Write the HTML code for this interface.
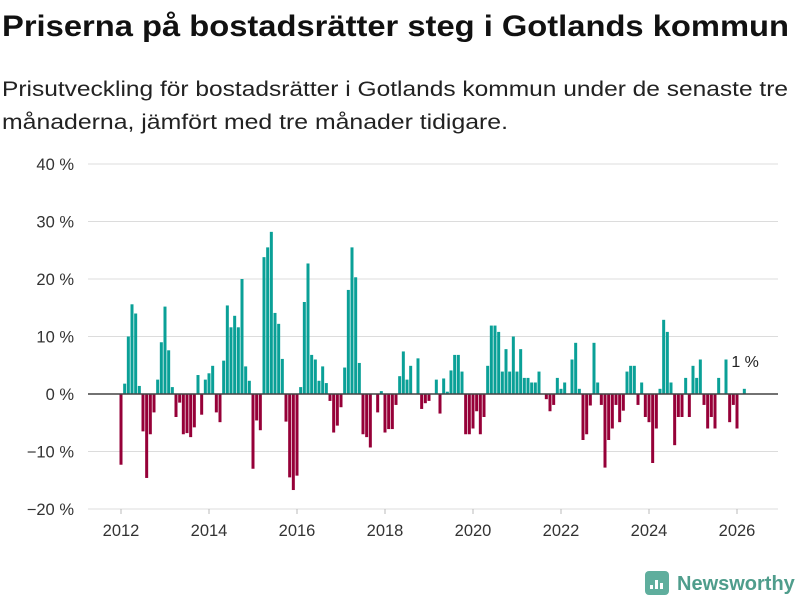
<!DOCTYPE html>
<html><head><meta charset="utf-8"><style>
body{margin:0;width:800px;height:600px;background:#fff;font-family:"Liberation Sans","DejaVu Sans",sans-serif;overflow:hidden;position:relative}
svg{position:absolute;left:0;top:0}
</style></head><body>
<svg id="chart" width="800" height="600">
<text x="2" y="36" font-size="30" font-weight="bold" fill="#111" textLength="787" lengthAdjust="spacingAndGlyphs">Priserna på bostadsrätter steg i Gotlands kommun</text>
<text x="2" y="96" font-size="21" fill="#222" textLength="786" lengthAdjust="spacingAndGlyphs">Prisutveckling för bostadsrätter i Gotlands kommun under de senaste tre</text>
<text x="2" y="129" font-size="21" fill="#222" textLength="506" lengthAdjust="spacingAndGlyphs">månaderna, jämfört med tre månader tidigare.</text>
</svg>
<script>
const startYear = 2012;
const values = [
-12.3,1.8,10,15.6,14,1.4,-6.5,-14.6,-7,-3.2,2.5,9,
15.2,7.6,1.2,-4,-1.5,-7,-6.8,-7.5,-5.8,3.3,-3.6,2.5,
3.6,4.9,-3.2,-4.9,5.8,15.4,11.6,13.6,11.6,20,4.8,2.3,
-13,-4.6,-6.3,23.8,25.5,28.2,14.1,12.2,6.1,-4.8,-14.5,-16.7,
-14.2,1.2,16,22.7,6.8,6,2.3,4.8,1.9,-1.2,-6.7,-5.5,
-2.3,4.6,18.1,25.5,20.3,5.4,-7,-7.5,-9.3,0,-3.2,0.5,
-6.7,-6.1,-6.1,-1.9,3.1,7.4,2.5,4.9,0,6.2,-2.6,-1.6,
-1.2,0,2.5,-3.4,2.7,0.4,4.1,6.8,6.8,3.9,-7,-7,
-6,-3,-7,-4,4.9,11.9,11.9,10.8,3.9,7.8,3.9,10,
3.9,7.8,2.8,2.8,2,2,3.9,0,-0.9,-3,-1.9,2.8,
0.9,2,0,6,8.9,0.9,-8,-7,-2,8.9,2,-1.9,
-12.8,-8,-6,-1.9,-4.9,-2.9,3.9,4.9,4.9,-1.9,2,-4,
-4.9,-12,-6,0.9,12.9,10.8,2,-8.9,-4,-4,2.8,-4,
4.9,2.8,6,-1.9,-6,-4,-6,2.8,0,6,-4.9,-1.9,
-6,0,0.9];
const yTicks = [-20,-10,0,10,20,30,40];
const yTickLabels = ["−20 %","−10 %","0 %","10 %","20 %","30 %","40 %"];
const xTicks = [2012,2014,2016,2018,2020,2022,2024,2026];
const lastLabel = "1 %";

const NS="http://www.w3.org/2000/svg";
const svg=document.getElementById('chart');
const y=v=>394 - v*5.75;
const x=m=>121 + (m/12)*44;
function mk(t,a){const e=document.createElementNS(NS,t);for(const k in a)e.setAttribute(k,a[k]);svg.appendChild(e);return e;}
yTicks.forEach((t,i)=>{
  if(t!==0){const g=mk('line',{x1:88,x2:778,y1:y(t),y2:y(t),stroke:'#dcdcdc','stroke-width':1});
  
  }
  const l=mk('text',{x:74,y:y(t)+6,'text-anchor':'end','font-size':16.5,fill:'#333'});
  l.textContent=yTickLabels[i];
  
  
});
xTicks.forEach(yr=>{
  const px=x((yr-startYear)*12);
  const tk=mk('line',{x1:px,x2:px,y1:509,y2:514,stroke:'#bbb'});
  
  
  const l=mk('text',{x:px,y:536,'text-anchor':'middle','font-size':16.5,fill:'#333'});
  l.textContent=yr;
  
  
});
values.forEach((v,i)=>{
  const px=x(i);
  const r=mk('rect',{x:px-1.5,width:3,y:Math.min(y(v),y(0)),height:Math.abs(y(v)-y(0)),fill:v>=0?'#0aa097':'#960038'});
  
  
});
const zl=mk('line',{x1:88,x2:778,y1:y(0),y2:y(0),stroke:'#444','stroke-width':1.5});


const li=values.length-1;
const ann=mk('text',{x:x(li)-13,y:y(values[li])-22,'font-size':16,fill:'#222'});
ann.textContent=lastLabel;


const lg=mk('g',{});


const box=document.createElementNS(NS,'rect');
[['x',645],['y',571],['width',24],['height',24],['rx',4],['fill','#5fae9d']].forEach(a=>box.setAttribute(a[0],a[1]));
lg.appendChild(box);
[[650,585,4],[655,580,9],[660,583,6]].forEach(b=>{const r=document.createElementNS(NS,'rect');r.setAttribute('x',b[0]);r.setAttribute('y',b[1]);r.setAttribute('width',3);r.setAttribute('height',b[2]);r.setAttribute('fill','#fff');lg.appendChild(r);});
const lt=document.createElementNS(NS,'text');
lt.setAttribute('x',677);lt.setAttribute('y',590);lt.setAttribute('font-size',20);lt.setAttribute('font-weight','bold');lt.setAttribute('fill','#4f9d8c');
lt.textContent='Newsworthy';
lg.appendChild(lt);
</script>
</body></html>
